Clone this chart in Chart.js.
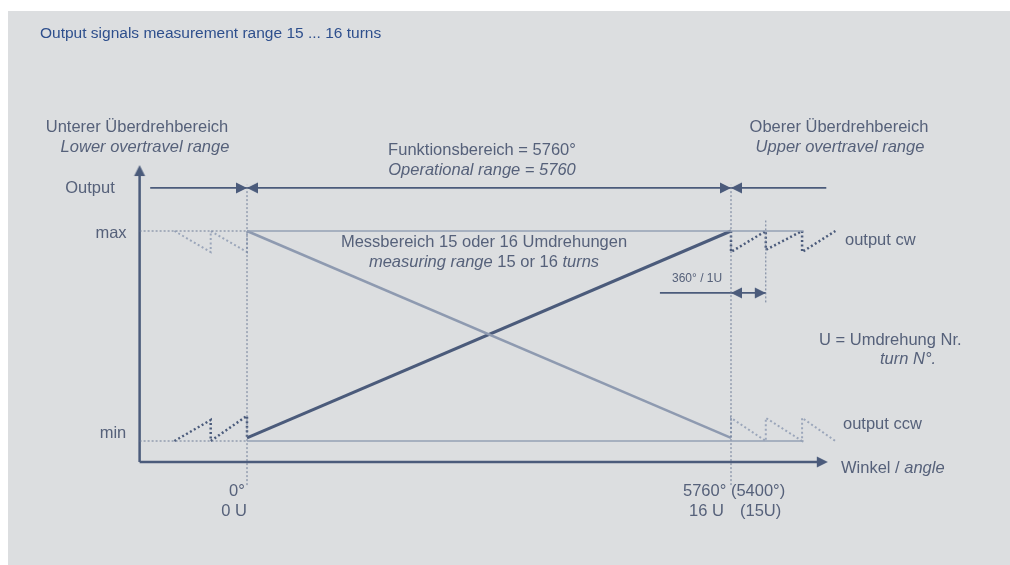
<!DOCTYPE html>
<html>
  <head>
    <meta charset="UTF-8" />
    <title>Output signals</title>
    <script src="https://cdn.jsdelivr.net/npm/chart.js"></script>
    <style>
      * {
        margin: 0;
        padding: 0;
        box-sizing: border-box;
      }

      body {
        width: 1010px;
        height: 565px;
        background: #fff;
        overflow: hidden;
        font-family: "Liberation Sans", Arial, sans-serif;
      }

      #panel {
        position: absolute;
        left: 8px;
        top: 11px;
        width: 1002px;
        height: 554px;
        background: #dcdee0;
      }
    </style>
  </head>
  <body>
    <div id="panel"><canvas id="diagram"></canvas></div>
    <script>
      // x in turns (U, 0..16 = 0°..5760°), y as output (0 = min, 1 = max)
      const rangeX = [0, 16];
      const cwY = [0.015, 1];
      const ccwY = [1, 0.015];

      const lowTeethX = [-2.4, -1.2, -1.2, 0, 0];
      const lowCwY = [0, 0.1, 0, 0.12, 0.015];
      const lowCcwY = [1, 0.9, 1, 0.9, 1];

      const upTeethX = [16, 16, 17.15, 17.15, 18.35, 18.35, 19.45];
      const upCwY = [1, 0.9, 1, 0.91, 1, 0.9, 1];
      const upCcwY = [0.015, 0.11, 0, 0.11, 0, 0.11, 0];

      const refDotX = [-3.55, 0];
      const refSolidX = [0, 18.4];
      const levels = [0, 1];

      const axisOrigin = [-3.55, -0.1];
      const axisEnds = [19.2, 1.314];

      const boundaryX = [0, 16];
      const boundaryY = [-0.21, 1.22];
      const turnMarkX = 17.15;
      const turnMarkY = [0.66, 1.05];

      const rangeRowY = 1.205;
      const rangeRowX = [-3.2, 19.15];
      const turnRowY = 0.705;
      const turnRowX = [13.65, 17.15];

      const dark = "#4b5b7b";
      const light = "#8e9ab0";
      const textCol = "#56617a";

      const pts = (xs, ys) => xs.map((x, i) => ({ x: x, y: ys[i] }));

      // arrowhead with its tip at the centre of the image, pointing right
      const head = document.createElement("canvas");
      head.width = 26;
      head.height = 26;
      const hc = head.getContext("2d");
      hc.fillStyle = dark;
      hc.beginPath();
      hc.moveTo(13, 13);
      hc.lineTo(2, 7.5);
      hc.lineTo(2, 18.5);
      hc.closePath();
      hc.fill();

      const line = (data, color, width, dash) => ({
        data: data,
        showLine: true,
        borderColor: color,
        borderWidth: width,
        borderDash: dash || [],
        pointRadius: 0,
        fill: false,
      });

      const heads = [
        { x: axisOrigin[0], y: axisEnds[1], r: -90 },
        { x: axisEnds[0], y: axisOrigin[1], r: 0 },
        { x: rangeX[0], y: rangeRowY, r: 0 },
        { x: rangeX[0], y: rangeRowY, r: 180 },
        { x: rangeX[1], y: rangeRowY, r: 0 },
        { x: rangeX[1], y: rangeRowY, r: 180 },
        { x: rangeX[1], y: turnRowY, r: 180 },
        { x: turnMarkX, y: turnRowY, r: 0 },
      ];

      const datasets = [
        // reference levels
        line(pts(refDotX, [levels[1], levels[1]]), "#6f7d97", 1, [2, 2]),
        line(pts(refDotX, [levels[0], levels[0]]), "#6f7d97", 1, [2, 2]),
        line(pts(refSolidX, [levels[1], levels[1]]), "#95a0b4", 1.3),
        line(pts(refSolidX, [levels[0], levels[0]]), "#95a0b4", 1.3),
        // boundaries
        line(pts([boundaryX[0], boundaryX[0]], boundaryY), "#6f7d97", 1, [2, 2]),
        line(pts([boundaryX[1], boundaryX[1]], boundaryY), "#6f7d97", 1, [2, 2]),
        line(pts([turnMarkX, turnMarkX], turnMarkY), "#6f7d97", 1, [2, 2]),
        // output lines
        line(pts(rangeX, ccwY), light, 2.5),
        line(pts(rangeX, cwY), dark, 3),
        // overtravel teeth
        line(pts(lowTeethX, lowCcwY), "#9ba6ba", 2, [2, 2.5]),
        line(pts(lowTeethX, lowCwY), dark, 2.5, [2, 2.5]),
        line(pts(upTeethX, upCwY), dark, 2.5, [2, 2.5]),
        line(pts(upTeethX, upCcwY), "#9ba6ba", 2, [2, 2.5]),
        // arrows
        line(pts(rangeRowX, [rangeRowY, rangeRowY]), dark, 1.8),
        line(pts(turnRowX, [turnRowY, turnRowY]), dark, 1.8),
        line(pts([axisOrigin[0], axisOrigin[0]], [axisOrigin[1], axisEnds[1] - 0.03]), dark, 2.5),
        line(pts([axisOrigin[0], axisEnds[0] - 0.2], [axisOrigin[1], axisOrigin[1]]), dark, 2.5),
        {
          data: heads.map((h) => ({ x: h.x, y: h.y })),
          showLine: false,
          pointStyle: head,
          rotation: heads.map((h) => h.r),
          pointRadius: 6,
        },
      ];

      // page coordinates, panel starts at (8, 11)
      const labels = [
        { t: [["Output signals measurement range 15 ... 16 turns", 0]], x: 40, y: 34, a: "left", s: 15.5, c: "#2e4f8d" },
        { t: [["Unterer Überdrehbereich", 0]], x: 137, y: 127, a: "center" },
        { t: [["Lower overtravel range", 1]], x: 145, y: 147, a: "center" },
        { t: [["Funktionsbereich = 5760°", 0]], x: 482, y: 150, a: "center" },
        { t: [["Operational range = 5760", 1]], x: 482, y: 170, a: "center" },
        { t: [["Oberer Überdrehbereich", 0]], x: 839, y: 127, a: "center" },
        { t: [["Upper overtravel range", 1]], x: 840, y: 147, a: "center" },
        { t: [["Output", 0]], x: 90, y: 188, a: "center" },
        { t: [["max", 0]], x: 111, y: 233, a: "center" },
        { t: [["min", 0]], x: 113, y: 433, a: "center" },
        { t: [["Messbereich 15 oder 16 Umdrehungen", 0]], x: 484, y: 242, a: "center" },
        { t: [["measuring range", 1], [" 15 or 16 ", 0], ["turns", 1]], x: 484, y: 262, a: "center" },
        { t: [["output cw", 0]], x: 845, y: 240, a: "left" },
        { t: [["360° / 1U", 0]], x: 672, y: 279, a: "left", s: 12 },
        { t: [["U = Umdrehung Nr.", 0]], x: 819, y: 340, a: "left" },
        { t: [["turn N°.", 1]], x: 880, y: 359, a: "left" },
        { t: [["output ccw", 0]], x: 843, y: 424, a: "left" },
        { t: [["Winkel / ", 0], ["angle", 1]], x: 841, y: 468, a: "left" },
        { t: [["0°", 0]], x: 237, y: 491, a: "center" },
        { t: [["0 U", 0]], x: 234, y: 511, a: "center" },
        { t: [["5760° (5400°)", 0]], x: 683, y: 491, a: "left" },
        { t: [["16 U", 0]], x: 689, y: 511, a: "left" },
        { t: [["(15U)", 0]], x: 740, y: 511, a: "left" },
      ];

      const textPlugin = {
        id: "texts",
        afterDraw(chart) {
          const ctx = chart.ctx;
          ctx.save();
          ctx.textBaseline = "middle";
          labels.forEach((l) => {
            const size = l.s || 16.5;
            const font = (it) => (it ? "italic " : "") + size + "px 'Liberation Sans', Arial, sans-serif";
            let total = 0;
            l.t.forEach((p) => {
              ctx.font = font(p[1]);
              total += ctx.measureText(p[0]).width;
            });
            let x = l.x - 8;
            if (l.a === "center") x -= total / 2;
            ctx.fillStyle = l.c || textCol;
            l.t.forEach((p) => {
              ctx.font = font(p[1]);
              ctx.textAlign = "left";
              ctx.fillText(p[0], x, l.y - 11);
              x += ctx.measureText(p[0]).width;
            });
          });
          ctx.restore();
        },
      };

      new Chart(document.getElementById("diagram"), {
        type: "scatter",
        data: { datasets: datasets },
        options: {
          responsive: true,
          maintainAspectRatio: false,
          animation: false,
          layout: { padding: 0, autoPadding: false },
          plugins: {
            legend: { display: false },
            tooltip: { enabled: false },
          },
          scales: {
            x: { type: "linear", display: false, min: -239 / 30.25, max: 763 / 30.25 },
            y: { type: "linear", display: false, min: -124 / 210, max: 430 / 210 },
          },
        },
        plugins: [textPlugin],
      });
    </script>
  </body>
</html>
